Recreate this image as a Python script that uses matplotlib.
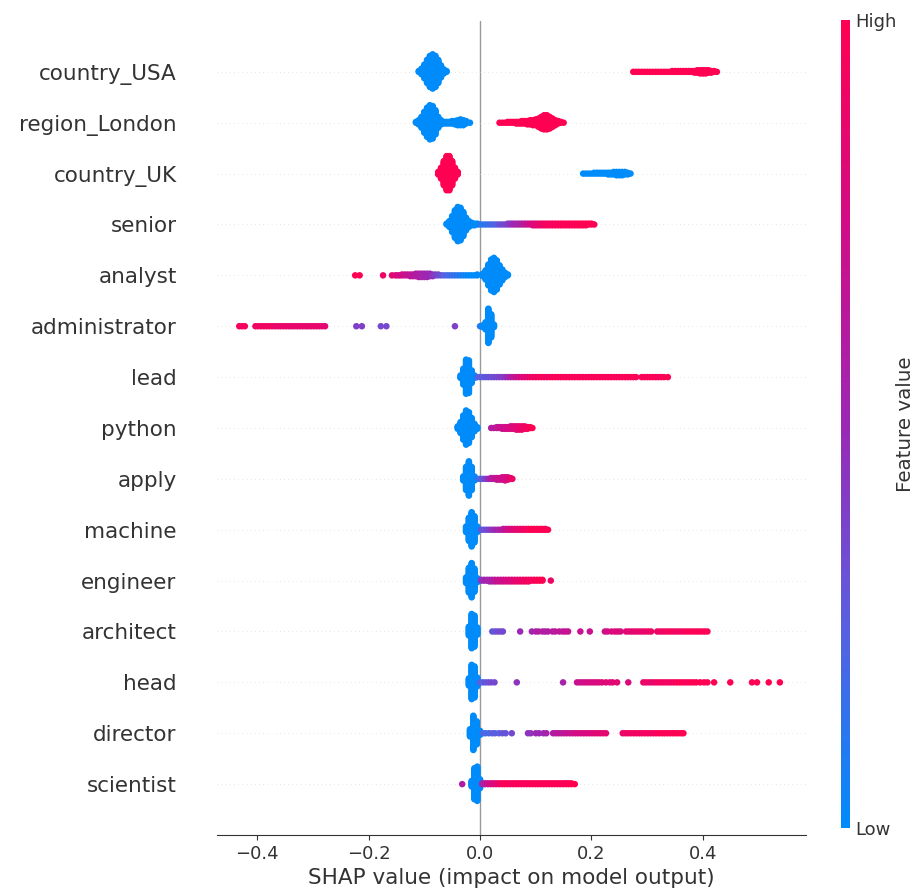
import numpy as np
import matplotlib
matplotlib.use("Agg")
import matplotlib.pyplot as plt
from matplotlib.colors import LinearSegmentedColormap
from matplotlib.cm import ScalarMappable

features = ["country_USA", "region_London", "country_UK", "senior", "analyst",
            "administrator", "lead", "python", "apply", "machine", "engineer",
            "architect", "head", "director", "scientist"]

# each entry: (SHAP value, number of points at that value, feature value 0=low .. 1=high)
country_usa = [(-0.110, 2, 0), (-0.105, 8, 0), (-0.100, 18, 0), (-0.095, 30, 0), (-0.090, 40, 0),
               (-0.085, 44, 0), (-0.080, 40, 0), (-0.075, 30, 0), (-0.070, 16, 0), (-0.065, 6, 0),
               (-0.060, 2, 0),
               (0.275, 1, 1), (0.280, 1, 1), (0.285, 1, 1), (0.290, 1, 1), (0.295, 1, 1), (0.300, 1, 1),
               (0.305, 1, 1), (0.310, 1, 1), (0.315, 1, 1), (0.320, 1, 1), (0.325, 1, 1), (0.330, 1, 1),
               (0.335, 1, 1), (0.340, 1, 1), (0.345, 2, 1), (0.350, 2, 1), (0.355, 2, 1), (0.360, 2, 1),
               (0.365, 2, 1), (0.370, 2, 1), (0.375, 2, 1), (0.380, 2, 1), (0.385, 3, 1), (0.390, 4, 1),
               (0.395, 5, 1), (0.400, 5, 1), (0.405, 5, 1), (0.410, 4, 1), (0.415, 3, 1), (0.420, 2, 1),
               (0.425, 1, 1)]

region_london = [(-0.115, 2, 0), (-0.110, 6, 0), (-0.105, 14, 0), (-0.100, 26, 0), (-0.095, 36, 0),
                 (-0.090, 42, 0), (-0.085, 40, 0), (-0.080, 30, 0), (-0.075, 14, 0), (-0.070, 6, 0),
                 (-0.065, 3, 0), (-0.060, 3, 0), (-0.055, 3, 0), (-0.050, 4, 0), (-0.045, 5, 0),
                 (-0.040, 7, 0), (-0.035, 8, 0), (-0.030, 7, 0), (-0.025, 4, 0), (-0.018, 1, 0),
                 (0.035, 1, 1), (0.040, 1, 1), (0.045, 1, 1), (0.050, 2, 1), (0.055, 2, 1), (0.060, 2, 1),
                 (0.065, 3, 1), (0.070, 3, 1), (0.075, 4, 1), (0.080, 4, 1), (0.085, 5, 1), (0.090, 6, 1),
                 (0.095, 7, 1), (0.100, 8, 1), (0.105, 11, 1), (0.110, 15, 1), (0.115, 18, 1),
                 (0.120, 18, 1), (0.125, 15, 1), (0.130, 11, 1), (0.135, 7, 1), (0.140, 4, 1),
                 (0.145, 2, 1), (0.150, 1, 1)]

country_uk = [(-0.075, 4, 1), (-0.070, 14, 1), (-0.065, 30, 1), (-0.060, 42, 1), (-0.055, 42, 1),
              (-0.050, 30, 1), (-0.045, 14, 1), (-0.040, 4, 1),
              (0.185, 1, 0), (0.190, 1, 0), (0.195, 1, 0), (0.200, 1, 0), (0.205, 2, 0), (0.210, 2, 0),
              (0.215, 2, 0), (0.220, 2, 0), (0.225, 2, 0), (0.230, 3, 0), (0.235, 3, 0), (0.240, 4, 0),
              (0.245, 5, 0), (0.250, 5, 0), (0.255, 5, 0), (0.260, 4, 0), (0.265, 3, 0), (0.270, 1, 0)]

senior = [(-0.060, 2, 0), (-0.055, 8, 0), (-0.050, 20, 0), (-0.045, 34, 0), (-0.040, 42, 0),
          (-0.035, 40, 0), (-0.030, 30, 0), (-0.025, 16, 0), (-0.020, 8, 0), (-0.015, 4, 0),
          (-0.010, 3, 0), (-0.005, 2, 0),
          (0.000, 1, 0.1), (0.005, 1, 0.1), (0.010, 1, 0.15), (0.015, 1, 0.15), (0.020, 1, 0.2),
          (0.025, 1, 0.2), (0.030, 1, 0.25), (0.035, 1, 0.3), (0.040, 1, 0.35), (0.045, 1, 0.35),
          (0.050, 2, 0.4), (0.055, 2, 0.45), (0.060, 2, 0.5), (0.065, 2, 0.55), (0.070, 2, 0.55),
          (0.075, 2, 0.6), (0.080, 2, 0.65), (0.085, 2, 0.7), (0.090, 2, 0.75), (0.095, 3, 0.8),
          (0.100, 3, 0.85), (0.105, 3, 0.85), (0.110, 3, 0.9), (0.115, 3, 0.9), (0.120, 3, 0.95),
          (0.125, 3, 0.95), (0.130, 3, 0.95), (0.135, 3, 0.95), (0.140, 3, 1), (0.145, 3, 0.95),
          (0.150, 3, 1), (0.155, 3, 1), (0.160, 3, 0.95), (0.165, 3, 1), (0.170, 3, 1),
          (0.175, 3, 0.95), (0.180, 3, 1), (0.185, 3, 1), (0.190, 3, 1), (0.195, 2, 1),
          (0.200, 2, 1), (0.205, 1, 1)]

analyst = [(-0.224, 1, 1), (-0.216, 1, 1), (-0.174, 1, 0.9), (-0.158, 1, 0.85), (-0.152, 1, 0.8),
           (-0.148, 1, 0.8), (-0.144, 1, 0.75), (-0.140, 2, 0.75), (-0.135, 2, 0.7), (-0.130, 2, 0.7),
           (-0.125, 3, 0.65), (-0.120, 3, 0.65), (-0.115, 4, 0.6), (-0.110, 5, 0.6), (-0.105, 5, 0.55),
           (-0.100, 5, 0.55), (-0.095, 5, 0.5), (-0.090, 4, 0.5), (-0.085, 3, 0.45), (-0.080, 2, 0.4),
           (-0.075, 2, 0.35), (-0.070, 1, 0.3), (-0.065, 1, 0.25), (-0.060, 1, 0.2), (-0.055, 1, 0.2),
           (-0.050, 1, 0.15), (-0.045, 1, 0.15), (-0.040, 1, 0.1), (-0.035, 1, 0.1), (-0.030, 1, 0.05),
           (-0.025, 1, 0.05), (-0.020, 1, 0), (-0.015, 1, 0), (-0.010, 1, 0), (-0.005, 2, 0),
           (0.005, 4, 0), (0.010, 12, 0), (0.015, 26, 0), (0.020, 38, 0), (0.025, 42, 0),
           (0.030, 36, 0), (0.035, 24, 0), (0.040, 14, 0), (0.045, 6, 0), (0.050, 2, 0)]

administrator = [(-0.432, 1, 0.95), (-0.427, 1, 0.95), (-0.422, 1, 0.95), (-0.403, 1, 0.9),
                 (-0.398, 1, 0.9), (-0.393, 1, 0.95), (-0.388, 1, 0.9), (-0.383, 1, 0.9),
                 (-0.378, 1, 0.95), (-0.373, 1, 0.9), (-0.368, 1, 0.9), (-0.363, 1, 0.85),
                 (-0.358, 1, 0.9), (-0.353, 1, 0.9), (-0.348, 1, 0.85), (-0.343, 1, 0.9),
                 (-0.338, 1, 0.85), (-0.333, 1, 0.9), (-0.328, 1, 0.85), (-0.323, 1, 0.9),
                 (-0.318, 1, 0.85), (-0.313, 1, 0.9), (-0.308, 1, 0.85), (-0.303, 1, 0.85),
                 (-0.298, 1, 0.9), (-0.293, 1, 0.85), (-0.288, 1, 0.9), (-0.283, 1, 0.85),
                 (-0.278, 1, 0.85),
                 (-0.222, 1, 0.4), (-0.212, 1, 0.4), (-0.178, 1, 0.35), (-0.168, 1, 0.35),
                 (-0.045, 1, 0.4), (0.000, 1, 0.1),
                 (0.005, 3, 0), (0.010, 10, 0), (0.015, 44, 0), (0.020, 30, 0), (0.025, 4, 0)]

lead = [(-0.035, 4, 0), (-0.030, 20, 0), (-0.025, 42, 0), (-0.020, 40, 0), (-0.015, 16, 0),
        (-0.010, 4, 0),
        (-0.005, 1, 0.2), (0.000, 1, 0.25), (0.005, 1, 0.25), (0.010, 1, 0.3), (0.015, 1, 0.3),
        (0.020, 1, 0.3), (0.025, 1, 0.35), (0.030, 1, 0.35), (0.035, 1, 0.4), (0.040, 1, 0.4),
        (0.045, 1, 0.45), (0.050, 1, 0.5), (0.055, 1, 0.6), (0.060, 1, 0.65), (0.065, 1, 0.7),
        (0.070, 1, 0.75), (0.075, 1, 0.8), (0.080, 1, 0.85), (0.085, 1, 0.85), (0.090, 1, 0.9),
        (0.095, 1, 0.9), (0.100, 1, 0.95), (0.105, 1, 0.9), (0.110, 1, 0.95), (0.115, 1, 0.95),
        (0.120, 1, 0.9), (0.125, 1, 0.95), (0.130, 1, 1), (0.135, 1, 0.95), (0.140, 1, 0.95),
        (0.145, 1, 1), (0.150, 1, 0.95), (0.155, 1, 0.95), (0.160, 1, 1), (0.165, 1, 0.95),
        (0.170, 1, 0.95), (0.175, 1, 1), (0.180, 1, 0.95), (0.185, 1, 0.95), (0.190, 1, 1),
        (0.195, 1, 0.95), (0.200, 1, 0.95), (0.205, 1, 1), (0.210, 1, 0.95), (0.215, 1, 0.95),
        (0.220, 1, 1), (0.225, 1, 0.95), (0.230, 1, 0.95), (0.235, 1, 1), (0.240, 1, 0.95),
        (0.245, 1, 0.95), (0.250, 1, 1), (0.255, 1, 0.95), (0.260, 1, 0.95), (0.265, 1, 1),
        (0.270, 1, 0.95), (0.275, 1, 0.95), (0.280, 1, 1), (0.290, 1, 0.95), (0.295, 1, 0.95),
        (0.300, 1, 1), (0.305, 1, 0.95), (0.310, 1, 0.95), (0.315, 1, 1), (0.320, 1, 0.95),
        (0.325, 1, 0.95), (0.330, 1, 1), (0.337, 1, 1)]

python = [(-0.040, 4, 0), (-0.035, 14, 0), (-0.030, 30, 0), (-0.025, 42, 0), (-0.020, 38, 0),
          (-0.015, 24, 0), (-0.010, 10, 0), (-0.005, 3, 0),
          (0.020, 1, 0.6), (0.025, 1, 0.65), (0.030, 2, 0.65), (0.035, 2, 0.7), (0.040, 3, 0.7),
          (0.045, 3, 0.75), (0.050, 3, 0.75), (0.055, 4, 0.8), (0.060, 4, 0.8), (0.065, 5, 0.85),
          (0.070, 5, 0.85), (0.075, 5, 0.9), (0.080, 4, 0.9), (0.085, 3, 0.95), (0.090, 2, 1),
          (0.094, 1, 1)]

apply = [(-0.030, 6, 0), (-0.025, 30, 0), (-0.020, 44, 0), (-0.015, 30, 0), (-0.010, 6, 0),
         (-0.005, 1, 0.1), (0.000, 1, 0.2), (0.005, 1, 0.3), (0.010, 1, 0.4), (0.015, 1, 0.5),
         (0.020, 2, 0.6), (0.025, 2, 0.65), (0.030, 3, 0.7), (0.035, 3, 0.7), (0.040, 4, 0.75),
         (0.045, 5, 0.75), (0.050, 4, 0.8), (0.055, 2, 0.85), (0.058, 1, 0.9)]

machine = [(-0.025, 8, 0), (-0.020, 30, 0), (-0.015, 44, 0), (-0.010, 34, 0), (-0.005, 8, 0),
           (0.002, 1, 0.3), (0.007, 1, 0.3), (0.012, 1, 0.35), (0.017, 1, 0.4), (0.022, 1, 0.45),
           (0.027, 1, 0.5), (0.032, 1, 0.55), (0.037, 1, 0.6), (0.042, 2, 0.65), (0.047, 2, 0.7),
           (0.052, 2, 0.75), (0.057, 2, 0.8), (0.062, 2, 0.85), (0.067, 2, 0.85), (0.072, 2, 0.9),
           (0.077, 2, 0.9), (0.082, 2, 0.95), (0.087, 2, 0.95), (0.092, 2, 1), (0.097, 2, 1),
           (0.102, 2, 1), (0.107, 2, 1), (0.112, 2, 1), (0.117, 2, 1), (0.122, 1, 1)]

engineer = [(-0.025, 8, 0), (-0.020, 32, 0), (-0.015, 44, 0), (-0.010, 30, 0), (-0.005, 6, 0),
            (0.002, 2, 0.45), (0.007, 2, 0.5), (0.012, 2, 0.55), (0.017, 3, 0.55), (0.022, 3, 0.6),
            (0.027, 3, 0.65), (0.032, 3, 0.7), (0.037, 3, 0.7), (0.042, 3, 0.75), (0.047, 3, 0.75),
            (0.052, 3, 0.8), (0.057, 3, 0.8), (0.062, 3, 0.85), (0.067, 3, 0.85), (0.072, 3, 0.9),
            (0.077, 3, 0.9), (0.082, 3, 0.9), (0.087, 3, 0.95), (0.092, 2, 0.95), (0.097, 2, 0.95),
            (0.102, 2, 1), (0.107, 2, 1), (0.112, 2, 1), (0.127, 1, 0.9)]

architect = [(-0.020, 12, 0), (-0.015, 44, 0), (-0.010, 40, 0), (-0.005, 10, 0),
             (0.022, 1, 0.3), (0.027, 1, 0.3), (0.032, 1, 0.35), (0.037, 1, 0.35), (0.041, 1, 0.35),
             (0.072, 1, 0.5),
             (0.093, 1, 0.55), (0.100, 1, 0.55), (0.105, 1, 0.6), (0.112, 1, 0.6), (0.117, 1, 0.6),
             (0.122, 1, 0.6), (0.130, 1, 0.6), (0.135, 1, 0.65), (0.142, 1, 0.65), (0.148, 1, 0.65),
             (0.153, 1, 0.7), (0.158, 1, 0.7), (0.180, 1, 0.7), (0.197, 1, 0.7),
             (0.224, 1, 0.75), (0.229, 1, 0.75), (0.236, 1, 0.8), (0.242, 1, 0.8), (0.247, 1, 0.8),
             (0.252, 1, 0.8), (0.262, 1, 0.85), (0.267, 1, 0.85), (0.272, 1, 0.85), (0.277, 1, 0.85),
             (0.282, 1, 0.85), (0.287, 1, 0.9), (0.292, 1, 0.85), (0.297, 1, 0.9), (0.302, 1, 0.9),
             (0.307, 1, 0.9), (0.318, 1, 0.9), (0.323, 1, 0.9), (0.328, 1, 0.9), (0.333, 1, 0.95),
             (0.338, 1, 0.95), (0.343, 1, 0.95), (0.348, 1, 0.9), (0.353, 1, 0.95), (0.358, 1, 0.95),
             (0.363, 1, 0.9), (0.368, 1, 0.95), (0.373, 1, 1), (0.378, 1, 0.95), (0.383, 1, 1),
             (0.388, 1, 1), (0.393, 1, 0.95), (0.398, 1, 1), (0.403, 1, 1), (0.408, 1, 1)]

head = [(-0.020, 10, 0), (-0.015, 44, 0), (-0.010, 40, 0), (-0.005, 12, 0),
        (0.000, 1, 0.25), (0.005, 1, 0.25), (0.010, 1, 0.3), (0.015, 1, 0.3), (0.020, 1, 0.35),
        (0.026, 1, 0.35), (0.066, 1, 0.45), (0.149, 1, 0.55),
        (0.174, 1, 0.7), (0.179, 1, 0.7), (0.184, 1, 0.75), (0.189, 1, 0.75), (0.194, 1, 0.75),
        (0.199, 1, 0.8), (0.204, 1, 0.75), (0.209, 1, 0.8), (0.214, 1, 0.8), (0.219, 1, 0.8),
        (0.226, 1, 0.85), (0.233, 1, 0.8), (0.238, 1, 0.85), (0.246, 1, 0.85), (0.266, 1, 0.8),
        (0.293, 1, 0.9), (0.298, 1, 0.9), (0.303, 1, 0.9), (0.308, 1, 0.85), (0.313, 1, 0.9),
        (0.318, 1, 0.9), (0.323, 1, 0.95), (0.328, 1, 0.9), (0.333, 1, 0.95), (0.338, 1, 0.95),
        (0.343, 1, 0.9), (0.348, 1, 0.95), (0.353, 1, 0.95), (0.358, 1, 1), (0.363, 1, 0.95),
        (0.368, 1, 1), (0.373, 1, 0.95), (0.378, 1, 1), (0.383, 1, 1), (0.388, 1, 1),
        (0.395, 1, 1), (0.402, 1, 1), (0.408, 1, 1), (0.420, 1, 1), (0.449, 1, 1),
        (0.488, 1, 1), (0.497, 1, 1), (0.518, 1, 1), (0.538, 1, 1)]

director = [(-0.018, 10, 0), (-0.012, 44, 0), (-0.006, 30, 0), (0.000, 6, 0),
            (0.005, 1, 0.2), (0.010, 1, 0.2), (0.016, 1, 0.2), (0.022, 1, 0.25), (0.027, 1, 0.25),
            (0.034, 1, 0.25), (0.040, 1, 0.3), (0.046, 1, 0.3), (0.057, 1, 0.35),
            (0.086, 1, 0.45), (0.091, 1, 0.45), (0.100, 1, 0.5), (0.106, 1, 0.5), (0.114, 1, 0.5),
            (0.119, 1, 0.55), (0.131, 1, 0.6), (0.136, 1, 0.6), (0.141, 1, 0.65), (0.146, 1, 0.65),
            (0.151, 1, 0.65), (0.156, 1, 0.7), (0.161, 1, 0.7), (0.166, 1, 0.7), (0.171, 1, 0.75),
            (0.176, 1, 0.75), (0.181, 1, 0.75), (0.186, 1, 0.8), (0.191, 1, 0.75), (0.196, 1, 0.8),
            (0.201, 1, 0.8), (0.206, 1, 0.85), (0.211, 1, 0.8), (0.216, 1, 0.85), (0.221, 1, 0.85),
            (0.226, 1, 0.85), (0.256, 1, 0.9), (0.261, 1, 0.9), (0.266, 1, 0.9), (0.271, 1, 0.9),
            (0.276, 1, 0.95), (0.281, 1, 0.9), (0.286, 1, 0.95), (0.291, 1, 0.9), (0.296, 1, 0.95),
            (0.301, 1, 0.95), (0.306, 1, 0.9), (0.311, 1, 0.95), (0.316, 1, 0.95), (0.321, 1, 1),
            (0.326, 1, 0.95), (0.331, 1, 1), (0.336, 1, 1), (0.341, 1, 0.95), (0.346, 1, 1),
            (0.351, 1, 1), (0.356, 1, 1), (0.361, 1, 1), (0.365, 1, 1)]

scientist = [(-0.032, 1, 0.6),
             (-0.015, 8, 0), (-0.010, 40, 0), (-0.005, 44, 0), (0.000, 12, 0),
             (0.004, 2, 0.55), (0.009, 2, 0.6), (0.014, 2, 0.7), (0.019, 2, 0.75), (0.024, 2, 0.8),
             (0.029, 2, 0.85), (0.034, 2, 0.9), (0.039, 2, 0.95), (0.044, 2, 0.95), (0.049, 2, 1),
             (0.054, 2, 0.95), (0.059, 2, 0.95), (0.064, 2, 1), (0.069, 2, 0.95), (0.074, 2, 1),
             (0.079, 2, 0.95), (0.084, 2, 0.95), (0.089, 2, 1), (0.094, 2, 0.95), (0.099, 2, 1),
             (0.104, 2, 0.95), (0.109, 2, 1), (0.114, 2, 0.95), (0.119, 2, 1), (0.124, 2, 0.95),
             (0.129, 2, 1), (0.134, 2, 0.95), (0.139, 2, 1), (0.144, 2, 1), (0.149, 2, 0.95),
             (0.154, 2, 1), (0.159, 2, 1), (0.164, 2, 1), (0.170, 1, 1)]

rows = [country_usa, region_london, country_uk, senior, analyst, administrator, lead,
        python, apply, machine, engineer, architect, head, director, scientist]

xtick_vals = [-0.4, -0.2, 0.0, 0.2, 0.4]

red_blue = LinearSegmentedColormap.from_list(
    "red_blue", ["#008bfb", "#5a5fe0", "#9b28b4", "#d20c86", "#ff0052"])

axis_color = "#333333"
row_height = 0.4

fig = plt.figure(figsize=(9.19, 8.92), dpi=100)
ax = fig.add_axes([0.2361, 0.0639, 0.641, 0.9126])

n_feat = len(features)
ax.axvline(0, color="#999999", lw=1, zorder=-1)

for i, pts in enumerate(rows):
    pos = n_feat - 1 - i
    ax.axhline(pos, color="#cccccc", lw=0.5, dashes=(1, 5), zorder=-1)

    # stack points sharing a value up and down like a beeswarm
    nmax = max(p[1] for p in pts)
    scale = 0.9 * row_height / (np.ceil((nmax - 1) / 2) + 1)
    xs, ys, cs = [], [], []
    for x, n, c in pts:
        for k in range(n):
            layer = np.ceil(k / 2) * (1 if k % 2 else -1)
            xs.append(x)
            ys.append(pos + layer * scale)
            cs.append(c)
    ax.scatter(xs, ys, c=cs, cmap=red_blue, vmin=0, vmax=1, s=22,
               linewidth=0, zorder=3, rasterized=True)

ax.set_xlim(-0.472, 0.585)
ax.set_ylim(-1, n_feat)
for side in ["right", "top", "left"]:
    ax.spines[side].set_visible(False)
ax.spines["bottom"].set_color(axis_color)

ax.set_yticks(range(n_feat))
ax.set_yticklabels(features[::-1], fontsize=15.5)
ax.set_xticks(xtick_vals)
ax.set_xticklabels([f"{v:.1f}".replace("-", "\u2212") for v in xtick_vals])
ax.tick_params(color=axis_color, labelcolor=axis_color)
ax.tick_params("y", length=0, pad=29)
ax.tick_params("x", labelsize=13)
ax.set_xlabel("SHAP value (impact on model output)", fontsize=15.5, color=axis_color)

cax = fig.add_axes([0.915, 0.0717, 0.0098, 0.906])
m = ScalarMappable(cmap=red_blue)
m.set_array([0, 1])
cb = fig.colorbar(m, cax=cax, ticks=[0, 1])
cb.set_ticklabels(["Low", "High"])
cb.set_label("Feature value", size=14.3, labelpad=0, color=axis_color)
cb.ax.tick_params(labelsize=13, length=0, labelcolor=axis_color)
cb.outline.set_visible(False)

fig.savefig("out.png", dpi=100)
